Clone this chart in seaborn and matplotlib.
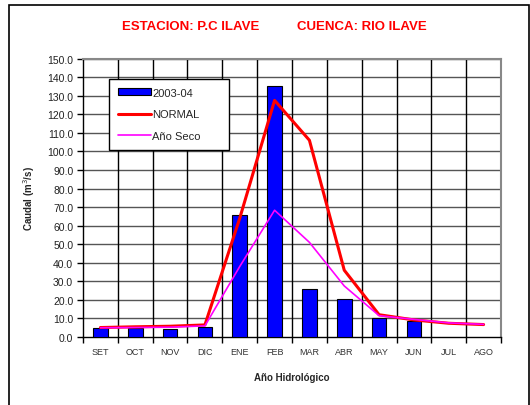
import numpy as np
import pandas as pd
import matplotlib
matplotlib.use("Agg")
import matplotlib.pyplot as plt
import matplotlib.ticker as mticker
import matplotlib.patches as patches
import seaborn as sns

meses = ["SET", "OCT", "NOV", "DIC", "ENE", "FEB", "MAR", "ABR", "MAY", "JUN", "JUL", "AGO"]
caudal_2003_04 = [5.0, 5.1, 4.1, 5.6, 66.0, 135.3, 25.8, 20.7, 10.0, 8.5, np.nan, np.nan]
normal = [5.1, 5.5, 5.8, 6.5, 64.0, 127.5, 106.0, 36.0, 12.0, 9.2, 7.4, 6.7]
ano_seco = [5.0, 5.1, 5.3, 6.0, 38.0, 68.3, 51.0, 27.5, 11.5, 9.5, 7.6, 6.8]

df = pd.DataFrame({"mes": meses, "idx": range(len(meses)),
                   "2003-04": caudal_2003_04, "NORMAL": normal, "Año Seco": ano_seco})

sns.set_theme(style="white")
plt.rcParams['font.family'] = ['Liberation Sans', 'DejaVu Sans']

fig = plt.figure(figsize=(5.30, 4.06), dpi=100)
ax = fig.add_axes([83/530, 1-338/406, 418/530, 278.4/406])

sns.barplot(data=df, x="mes", y="2003-04", ax=ax, color="#0000ff", width=0.42,
            edgecolor="black", linewidth=0.8, saturation=1, label="2003-04", zorder=3)
sns.lineplot(data=df, x="idx", y="NORMAL", ax=ax, color="#ff0000", linewidth=2.2,
             label="NORMAL", zorder=4)
sns.lineplot(data=df, x="idx", y="Año Seco", ax=ax, color="#ff00ff", linewidth=1.2,
             label="Año Seco", zorder=5)

ax.set_xlim(-0.5, 11.5)
ax.set_ylim(0, 150)
ax.yaxis.set_major_locator(mticker.MultipleLocator(10))
ax.yaxis.set_major_formatter(mticker.FormatStrFormatter("%.1f"))
ax.set_xticks(range(12))
ax.set_xticklabels(meses)
ax.set_xticks(np.arange(-0.5, 12, 1), minor=True)

# grid
for v in range(10, 151, 10):
    ax.axhline(v, color="#555555", linewidth=1.0, zorder=1)
for b in np.arange(0.5, 11, 1):
    ax.axvline(b, color="black", linewidth=1.0, zorder=1)

ax.tick_params(axis="x", which="major", length=0, labelsize=6.5, labelcolor="#333333", pad=7)
ax.tick_params(axis="x", which="minor", length=4, width=1, color="black", direction="out", bottom=True)
ax.tick_params(axis="y", which="major", length=4, width=1, color="black", direction="out",
               left=True, labelsize=7.5, labelcolor="#222222", pad=3)

for s in ["left", "bottom"]:
    ax.spines[s].set_color("black")
    ax.spines[s].set_linewidth(1.0)
for s in ["top", "right"]:
    ax.spines[s].set_color("#888888")
    ax.spines[s].set_linewidth(1.5)

ax.set_xlabel("Año Hidrológico", fontsize=7, fontweight="bold", labelpad=12)
ax.set_ylabel("Caudal (m$^3$/s)", fontsize=7, fontweight="bold", labelpad=7)

handles, labels = ax.get_legend_handles_labels()
order = [labels.index(l) for l in ["2003-04", "NORMAL", "Año Seco"]]
leg = ax.legend([handles[i] for i in order], [labels[i] for i in order],
                loc="upper left", bbox_to_anchor=(0.062, 0.679, 0.287, 0.248), mode="expand",
                fontsize=8, frameon=True, fancybox=False, edgecolor="black", framealpha=1,
                handlelength=3.0, handleheight=0.6, labelspacing=1.05, borderpad=0.8,
                handletextpad=0.1, borderaxespad=0)
leg.get_frame().set_linewidth(1.0)

fig.text(122/530, 1-27/406, "ESTACION: P.C ILAVE", color="#ff0000", fontsize=9.5,
         fontweight="bold", ha="left", va="center")
fig.text(297/530, 1-27/406, "CUENCA: RIO ILAVE", color="#ff0000", fontsize=9.5,
         fontweight="bold", ha="left", va="center")

border = patches.Rectangle((9/530, -0.05), 520/530, 1.05-6/406, transform=fig.transFigure,
                           fill=False, edgecolor="black", linewidth=1.2)
fig.patches.append(border)

fig.savefig("out.png", dpi=100)
